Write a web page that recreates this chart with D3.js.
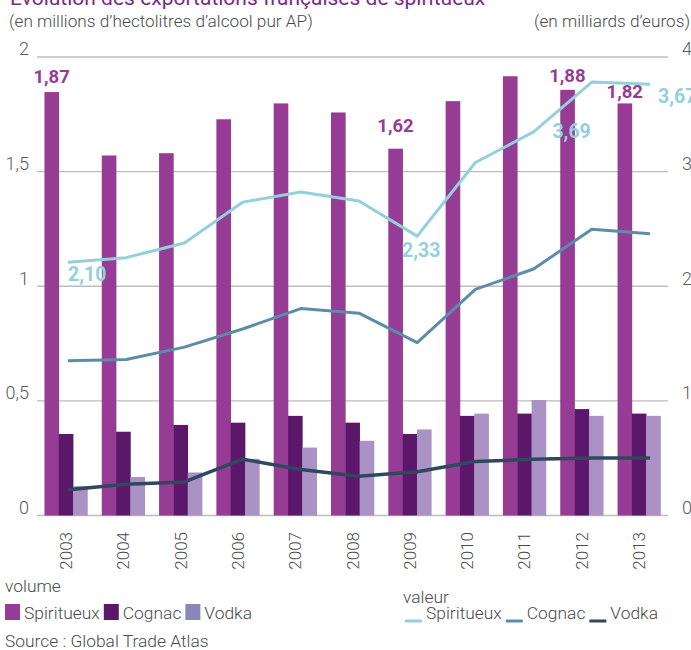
<!DOCTYPE html>
<html><head><meta charset="utf-8">
<script src="https://cdn.jsdelivr.net/npm/d3@7"></script>
<style>
html,body{margin:0;padding:0;background:#fff;}
svg{display:block;font-family:Roboto, "Noto Sans", sans-serif;}
</style></head>
<body>
<svg id="chart" width="691" height="650"></svg>
<script>
// ---------- data ----------
const years = ['2003','2004','2005','2006','2007','2008','2009','2010','2011','2012','2013'];
// volume (millions d'hectolitres d'alcool pur) – bars, left axis
const volSpiritueux = [1.87, 1.59, 1.60, 1.75, 1.82, 1.78, 1.62, 1.83, 1.94, 1.88, 1.82];
const volCognac     = [0.36, 0.37, 0.40, 0.41, 0.44, 0.41, 0.36, 0.44, 0.45, 0.47, 0.45];
const volVodka      = [0.13, 0.17, 0.19, 0.25, 0.30, 0.33, 0.38, 0.45, 0.51, 0.44, 0.44];
// valeur (milliards d'euros) – lines, right axis
const valSpiritueux = [2.10, 2.14, 2.27, 2.63, 2.72, 2.64, 2.33, 2.98, 3.25, 3.69, 3.67];
const valCognac     = [1.23, 1.24, 1.35, 1.51, 1.69, 1.65, 1.39, 1.86, 2.04, 2.39, 2.35];
const valVodka      = [0.09, 0.14, 0.16, 0.36, 0.27, 0.21, 0.25, 0.34, 0.36, 0.37, 0.37];
const leftTicks  = [0, 0.5, 1, 1.5, 2];
const leftTickLabels  = ['0', '0,5', '1', '1,5', '2'];
const rightTicks = [0, 1, 2, 3, 4];
const rightTickLabels = ['0', '1', '2', '3', '4'];
const barLabelYears  = ['2003', '2009', '2012', '2013'];
const lineLabelYears = ['2003', '2009', '2012', '2013'];
const volumeSeries = ['Spiritueux', 'Cognac', 'Vodka'];
const valueSeries  = ['Spiritueux', 'Cognac', 'Vodka'];
const titleText = 'Évolution des exportations françaises de spiritueux';
const subLeft = '(en millions d\u2019hectolitres d\u2019alcool pur AP)';
const subRight = '(en milliards d\u2019euros)';
const sourceText = 'Source : Global Trade Atlas';

// ---------- styles ----------
const barColors = ['#963c94', '#5b1769', '#aa92c4'];
const barLegendColors = ['#963c94', '#5b1769', '#8a86b8'];
const lineColors = ['#93d0dc', '#5d8cab', '#2f475f'];
const lineWidths = [3, 3, 3.5];
const textGray = '#4a4a4a';

const svg = d3.select('#chart');
const fmt = v => d3.format('.2f')(v).replace('.', ',');

// ---------- scales ----------
const plotL = 37, plotR = 668, plotB = 515.5, plotT = 57;
const x0 = d3.scaleBand().domain(years).range([plotL, plotR]).paddingInner(0.25).paddingOuter(0.13);
const x1 = d3.scaleBand().domain([0, 1, 2]).range([0, x0.bandwidth()]);
const yLeft  = d3.scaleLinear().domain([0, 2]).range([plotB, plotT]);
const yRight = d3.scaleLinear().domain([0, 4]).range([plotB, plotT]);
// bars and lines layers as placed in the original (slightly offset overlays)
const yBar  = d3.scaleLinear().domain([0, 2.025]).range([plotB, plotT]);
const xLine = d3.scalePoint().domain(years).range([68, 650]);
const yLine = d3.scaleLinear().domain([0, 4]).range([500, 47]);

// ---------- title ----------
svg.append('text').attr('x', 10).attr('y', 5).attr('font-size', 21).attr('fill', '#7a2a86')
  .attr('font-weight', 400).text(titleText);
svg.append('text').attr('x', 9).attr('y', 27).attr('font-size', 17.2).attr('font-weight', 300)
  .attr('fill', textGray).text(subLeft);
svg.append('text').attr('x', 690).attr('y', 27).attr('font-size', 17.2).attr('font-weight', 300)
  .attr('text-anchor', 'end').attr('fill', textGray).text(subRight);

// ---------- grid ----------
const grid = svg.append('g');
grid.selectAll('line').data(leftTicks).join('line')
  .attr('x1', plotL).attr('x2', plotR)
  .attr('y1', d => yLeft(d)).attr('y2', d => yLeft(d))
  .attr('stroke', '#bdbdbd').attr('stroke-width', 1.3);

// left axis labels
const axL = d3.axisLeft(yLeft).tickValues(leftTicks).tickFormat((d, i) => leftTickLabels[i]).tickSize(0).tickPadding(0);
const gL = svg.append('g').attr('transform', 'translate(29,0)').call(axL);
gL.select('.domain').remove();
gL.selectAll('text').attr('font-size', 18).attr('font-weight', 300).attr('fill', '#5a5a5a')
  .attr('font-family', 'Roboto').attr('dy', '-0.12em');
// right axis labels
const axR = d3.axisRight(yRight).tickValues(rightTicks).tickFormat((d, i) => rightTickLabels[i]).tickSize(0).tickPadding(0);
const gR = svg.append('g').attr('transform', 'translate(682,0)').call(axR);
gR.select('.domain').remove();
gR.selectAll('text').attr('font-size', 18).attr('font-weight', 300).attr('fill', '#5a5a5a')
  .attr('font-family', 'Roboto').attr('dy', '-0.12em');

// ---------- bars ----------
const volData = [volSpiritueux, volCognac, volVodka];
const groups = svg.append('g').selectAll('g').data(years).join('g')
  .attr('transform', d => `translate(${x0(d)},0)`);
groups.selectAll('rect').data((d, i) => volData.map((s, k) => ({k, v: s[i]}))).join('rect')
  .attr('x', d => x1(d.k)).attr('width', x1.bandwidth() + 0.3)
  .attr('y', d => yBar(d.v)).attr('height', d => plotB - yBar(d.v))
  .attr('fill', d => barColors[d.k]);

// ---------- lines ----------
const valData = [valSpiritueux, valCognac, valVodka];
const lineGen = d3.line().x((d, i) => xLine(years[i])).y(d => yLine(d));
svg.append('g').selectAll('path').data(valData).join('path')
  .attr('d', d => lineGen(d)).attr('fill', 'none')
  .attr('stroke', (d, i) => lineColors[i]).attr('stroke-width', (d, i) => lineWidths[i])
  .attr('stroke-linejoin', 'round');

// ---------- value labels ----------
const barLabelDy = {'2003': -9, '2009': -17, '2012': -8, '2013': -5};
svg.append('g').selectAll('text').data(barLabelYears).join('text')
  .attr('x', d => x0(d) + x1(0) + x1.bandwidth() / 2)
  .attr('y', d => yBar(volSpiritueux[years.indexOf(d)]) + barLabelDy[d])
  .attr('text-anchor', 'middle').attr('font-size', 18.5).attr('font-weight', 700)
  .attr('fill', barColors[0]).text(d => fmt(volSpiritueux[years.indexOf(d)]));

const lineLabelPos = {'2003': [0, 19, 'start'], '2009': [4, 21, 'middle'], '2012': [-1, 56, 'end'], '2013': [8, 19, 'start']};
svg.append('g').selectAll('text').data(lineLabelYears).join('text')
  .attr('x', d => xLine(d) + lineLabelPos[d][0])
  .attr('y', d => yLine(valSpiritueux[years.indexOf(d)]) + lineLabelPos[d][1])
  .attr('text-anchor', d => lineLabelPos[d][2]).attr('font-size', 19.5).attr('font-weight', 700)
  .attr('fill', lineColors[0]).text(d => fmt(valSpiritueux[years.indexOf(d)]));

// ---------- x axis labels ----------
svg.append('g').selectAll('text').data(years).join('text')
  .attr('transform', d => `translate(${x0(d) + x0.bandwidth() / 2 + 6},532) rotate(-90)`)
  .attr('text-anchor', 'end').attr('font-size', 17).attr('font-weight', 300)
  .attr('fill', textGray).text(d => d);

// ---------- legends ----------
const fs = 17.4;
svg.append('text').attr('x', 5).attr('y', 592).attr('font-size', fs).attr('font-weight', 300)
  .attr('fill', textGray).text('volume');
let lx = 5;
volumeSeries.forEach((s, i) => {
  svg.append('rect').attr('x', lx).attr('y', 604).attr('width', 15).attr('height', 16).attr('fill', barLegendColors[i]);
  const t = svg.append('text').attr('x', lx + 19).attr('y', 619).attr('font-size', fs).attr('font-weight', 300)
    .attr('fill', textGray).text(s);
  lx += 19 + t.node().getComputedTextLength() + 4;
});
svg.append('text').attr('x', 403).attr('y', 603).attr('font-size', fs).attr('font-weight', 300)
  .attr('fill', textGray).text('valeur');
lx = 405;
valueSeries.forEach((s, i) => {
  svg.append('line').attr('x1', lx).attr('x2', lx + 17).attr('y1', 621).attr('y2', 621)
    .attr('stroke', lineColors[i]).attr('stroke-width', 3);
  const t = svg.append('text').attr('x', lx + 21).attr('y', 619).attr('font-size', fs).attr('font-weight', 300)
    .attr('fill', textGray).text(s);
  lx += 21 + t.node().getComputedTextLength() + 4;
});
svg.append('text').attr('x', 5).attr('y', 647).attr('font-size', fs).attr('font-weight', 300)
  .attr('fill', textGray).text(sourceText);
</script>
</body></html>
